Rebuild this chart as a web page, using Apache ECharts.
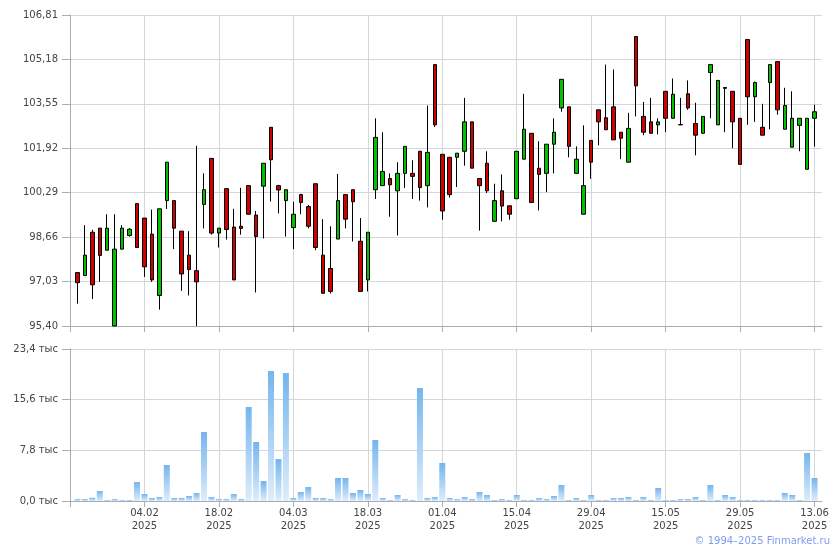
<!DOCTYPE html>
<html>
<head>
<meta charset="utf-8">
<script src="https://cdn.jsdelivr.net/npm/echarts@6/dist/echarts.min.js"></script>
<style>
html,body{margin:0;padding:0;background:#fff;}
#chart{width:840px;height:550px;}
</style>
</head>
<body>
<div id="chart"></div>
<script>
// Trading dates (DD.MM.YYYY)
var dates = [
  '22.01.2025','23.01.2025','24.01.2025','27.01.2025','28.01.2025','29.01.2025','30.01.2025','31.01.2025','03.02.2025','04.02.2025',
  '05.02.2025','06.02.2025','07.02.2025','10.02.2025','11.02.2025','12.02.2025','13.02.2025','14.02.2025','17.02.2025','18.02.2025',
  '19.02.2025','20.02.2025','21.02.2025','24.02.2025','25.02.2025','26.02.2025','27.02.2025','28.02.2025','03.03.2025','04.03.2025',
  '05.03.2025','06.03.2025','07.03.2025','10.03.2025','11.03.2025','12.03.2025','13.03.2025','14.03.2025','17.03.2025','18.03.2025',
  '19.03.2025','20.03.2025','21.03.2025','24.03.2025','25.03.2025','26.03.2025','27.03.2025','28.03.2025','31.03.2025','01.04.2025',
  '02.04.2025','03.04.2025','04.04.2025','07.04.2025','08.04.2025','09.04.2025','10.04.2025','11.04.2025','14.04.2025','15.04.2025',
  '16.04.2025','17.04.2025','18.04.2025','21.04.2025','22.04.2025','23.04.2025','24.04.2025','25.04.2025','28.04.2025','29.04.2025',
  '30.04.2025','02.05.2025','05.05.2025','06.05.2025','07.05.2025','08.05.2025','12.05.2025','13.05.2025','14.05.2025','15.05.2025',
  '16.05.2025','19.05.2025','20.05.2025','21.05.2025','22.05.2025','23.05.2025','26.05.2025','27.05.2025','28.05.2025','29.05.2025',
  '30.05.2025','02.06.2025','03.06.2025','04.06.2025','05.06.2025','06.06.2025','09.06.2025','10.06.2025','11.06.2025','13.06.2025'
];

var openP = [
  97.36,97.25,98.84,98.99,98.18,95.40,98.22,98.72,99.89,99.36,
  98.77,96.52,100.00,100.00,98.88,98.00,97.43,99.86,101.55,98.81,
  100.44,99.03,99.06,100.55,99.47,100.53,102.69,100.55,100.00,99.01,
  100.22,99.78,100.62,98.00,97.51,98.59,100.22,100.40,98.51,97.09,
  100.40,100.55,100.81,100.36,101.00,101.00,101.81,100.55,104.99,101.70,
  101.59,101.59,101.81,102.89,100.81,101.37,99.24,100.36,99.81,100.07,
  101.52,102.47,101.19,101.00,102.07,103.40,103.44,101.00,99.50,102.21,
  103.33,103.04,103.44,102.51,101.41,106.02,103.09,102.89,102.78,104.01,
  103.02,102.79,103.92,102.83,102.47,104.70,102.78,104.15,104.01,103.02,
  105.91,103.81,102.69,104.33,105.10,102.62,101.96,102.76,101.15,103.02
];
var closeP = [
  96.99,98.00,96.91,97.99,98.99,98.22,98.99,98.95,98.28,97.57,
  97.09,99.70,101.41,98.99,97.31,97.47,97.02,100.40,98.81,98.99,
  98.94,97.09,98.98,99.50,98.68,101.37,101.50,100.39,100.40,99.50,
  99.93,99.06,98.28,96.60,96.67,100.00,99.32,99.96,96.67,98.84,
  102.32,101.07,100.58,101.00,101.99,100.89,100.48,101.77,102.78,99.62,
  100.22,101.74,102.89,101.19,100.55,100.36,100.00,99.80,99.50,101.81,
  102.62,99.93,100.96,102.07,102.51,104.45,101.99,101.52,100.55,101.41,
  102.89,102.60,102.23,102.29,102.65,104.21,102.51,102.47,102.89,103.02,
  103.90,102.78,103.40,102.40,103.09,104.99,104.41,104.12,102.89,101.33,
  103.81,104.33,102.40,104.99,103.33,103.49,103.02,103.02,103.02,103.26
];
var lowP = [
  96.22,97.25,96.39,97.02,98.18,95.40,98.22,98.68,98.28,97.20,
  97.02,96.00,99.69,98.22,96.69,96.52,95.40,98.98,98.75,98.28,
  98.57,97.09,98.75,99.50,96.63,98.61,99.97,99.53,98.68,98.22,
  99.50,98.98,98.18,96.60,96.59,98.59,98.98,98.50,96.67,96.67,
  100.06,100.55,99.41,98.72,100.46,100.06,100.00,99.75,102.70,99.30,
  100.11,100.50,101.28,101.19,98.90,100.28,99.24,99.24,99.30,100.07,
  101.52,99.93,99.64,100.31,101.00,103.26,101.59,101.00,99.50,100.80,
  102.03,102.60,102.23,101.52,101.41,103.09,102.40,102.47,102.43,102.51,
  103.02,102.78,103.33,101.66,102.47,103.02,102.78,102.51,101.92,101.33,
  102.78,102.89,102.40,102.62,103.15,102.62,101.96,101.81,101.15,101.98
];
var highP = [
  97.36,99.10,98.93,98.99,99.50,99.50,99.10,98.99,99.89,99.36,
  99.67,99.70,101.41,100.00,98.88,98.88,102.01,101.00,101.55,98.99,
  100.44,99.70,100.47,100.55,99.62,101.37,102.69,100.58,100.40,99.96,
  100.25,99.84,100.62,99.32,99.06,100.98,100.22,100.40,99.36,98.84,
  103.02,102.51,101.00,101.41,101.99,101.48,101.81,103.49,104.99,101.70,
  101.59,101.74,103.77,102.89,100.81,101.81,100.62,100.96,99.81,101.81,
  103.92,102.47,102.18,102.07,103.02,104.45,103.44,101.99,102.76,102.21,
  103.33,104.99,104.81,102.51,103.22,106.02,103.62,103.77,103.02,104.01,
  104.48,103.77,104.41,103.59,103.09,104.99,104.41,104.15,104.01,103.02,
  105.91,104.37,103.55,104.99,105.10,104.14,104.01,103.02,103.02,103.52
];
// Volume, thousands
var volume = [
  0.30,0.30,0.50,1.54,0.15,0.30,0.15,0.15,2.92,1.08,
  0.46,0.62,5.54,0.46,0.46,0.77,1.23,10.62,0.62,0.30,
  0.30,1.08,0.30,14.47,9.08,3.08,20.01,6.46,19.70,0.46,
  1.39,2.15,0.46,0.46,0.30,3.54,3.54,1.23,1.69,1.08,
  9.39,0.46,0.15,0.92,0.30,0.15,17.39,0.46,0.62,5.85,
  0.46,0.30,0.62,0.30,1.39,0.92,0.15,0.30,0.15,0.92,
  0.15,0.15,0.46,0.30,0.77,2.46,0.15,0.46,0.15,0.92,
  0.15,0.15,0.46,0.46,0.62,0.15,0.62,0.15,2.00,0.15,
  0.15,0.30,0.30,0.62,0.15,2.46,0.15,0.92,0.62,0.15,
  0.15,0.15,0.15,0.15,0.15,1.23,0.92,0.15,7.39,3.54
];
var priceMin = 95.40, priceMax = 106.81, priceStep = 1.63;
var volMin = 0, volMax = 23.4, volStep = 7.8;
var volUnit = ' тыс';
var copyright = '© 1994–2025 Finmarket.ru';

// build padded category axis (one empty slot on each side)
var cats = [''].concat(dates, ['']);
var candleData = ['-'];
var volData = ['-'];
for (var i = 0; i < dates.length; i++) {
  candleData.push([openP[i], closeP[i], lowP[i], highP[i]]);
  volData.push(volume[i]);
}
candleData.push('-');
volData.push('-');

var FONT = 'DejaVu Sans';
var axisGray = '#a9adb8';
var gridGray = '#d3d7dc';
var labelColor = '#444';

function isDateTick(k) { return k >= 1 && k <= dates.length && (k - 1) % 10 === 9; }
function tickFn(k) { return k === 0 || isDateTick(k); }

var chart = echarts.init(document.getElementById('chart'), null, {renderer: 'canvas'});
var xBase = {
  type: 'category',
  data: cats,
  boundaryGap: false,
  axisLine: {show: true, lineStyle: {color: axisGray, width: 1}},
  axisTick: {show: true, interval: tickFn, length: 6, lineStyle: {color: axisGray}},
  splitLine: {show: true, interval: function (k) { return isDateTick(k); }, lineStyle: {color: gridGray, width: 1}}
};
var option = {
  animation: false,
  backgroundColor: '#fff',
  grid: [
    {left: 70, right: 18, top: 15, height: 311},
    {left: 70, right: 18, top: 349, height: 152}
  ],
  xAxis: [
    Object.assign({}, xBase, {gridIndex: 0, axisLabel: {show: false}}),
    Object.assign({}, xBase, {gridIndex: 1, axisLabel: {
      show: true, interval: function (k) { return isDateTick(k); },
      formatter: function (v) { return v.slice(0, 5) + '\n' + v.slice(6); },
      color: labelColor, fontFamily: FONT, fontSize: 10, lineHeight: 13, margin: 6
    }})
  ],
  yAxis: [
    {
      gridIndex: 0, type: 'value', min: priceMin, max: priceMax, interval: priceStep,
      axisLine: {show: true, lineStyle: {color: axisGray}},
      axisTick: {show: true, length: 8, lineStyle: {color: axisGray}},
      splitLine: {show: true, lineStyle: {color: gridGray}},
      axisLabel: {color: labelColor, fontFamily: FONT, fontSize: 10, margin: 12,
        formatter: function (v) { return v.toFixed(2).replace('.', ','); }}
    },
    {
      gridIndex: 1, type: 'value', min: volMin, max: volMax, interval: volStep,
      axisLine: {show: true, lineStyle: {color: axisGray}},
      axisTick: {show: true, length: 8, lineStyle: {color: axisGray}},
      splitLine: {show: true, lineStyle: {color: gridGray}},
      axisLabel: {color: labelColor, fontFamily: FONT, fontSize: 10, margin: 12,
        formatter: function (v) { return v.toFixed(1).replace('.', ',') + volUnit; }}
    }
  ],
  series: [
    {
      type: 'candlestick', xAxisIndex: 0, yAxisIndex: 0,
      data: candleData, barWidth: 4,
      itemStyle: {
        color: '#00c000', color0: '#d00000',
        borderColor: '#000', borderColor0: '#000', borderColorDoji: '#000',
        borderWidth: 1
      }
    },
    {
      type: 'bar', xAxisIndex: 1, yAxisIndex: 1,
      data: volData, barWidth: 6,
      itemStyle: {
        color: new echarts.graphic.LinearGradient(0, 0, 0, 1, [
          {offset: 0, color: '#74b5ee'},
          {offset: 1, color: '#deedfb'}
        ])
      }
    }
  ],
  graphic: [
    {type: 'text', right: 10, top: 536,
      style: {text: copyright, font: '10px "DejaVu Sans"', fill: '#7e9cf0'}}
  ]
};
chart.setOption(option);
</script>
</body>
</html>
